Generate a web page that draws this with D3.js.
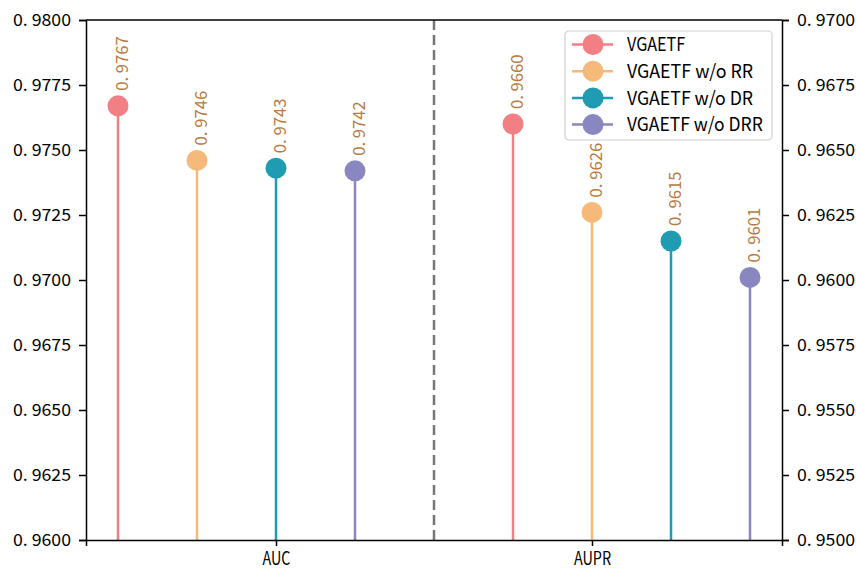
<!DOCTYPE html>
<html>
<head>
<meta charset="utf-8">
<script src="https://cdn.jsdelivr.net/npm/d3@7"></script>
<style>
  body { margin: 0; background: #fff; }
  text { font-family: "Noto Sans CJK SC", "DejaVu Sans", sans-serif; }
</style>
</head>
<body>
<div id="chart"></div>
<script>
// metric groups and ablation variants
var metrics = ["AUC", "AUPR"];
var variants = ["VGAETF", "VGAETF w/o RR", "VGAETF w/o DR", "VGAETF w/o DRR"];
var colors = ["#f27f83", "#f5b97a", "#1f9bb2", "#8a86c0"];
var aucValues = [0.9767, 0.9746, 0.9743, 0.9742];
var auprValues = [0.9660, 0.9626, 0.9615, 0.9601];
var leftTicks = [0.9600, 0.9625, 0.9650, 0.9675, 0.9700, 0.9725, 0.9750, 0.9775, 0.9800];
var rightTicks = [0.9500, 0.9525, 0.9550, 0.9575, 0.9600, 0.9625, 0.9650, 0.9675, 0.9700];

var W = 856, H = 569;
var m = { top: 20, right: 74, bottom: 29, left: 86 };
var w = W - m.left - m.right, h = H - m.top - m.bottom;

// stretch text to the width of a half-width monospace face (like SimHei)
function fit(sel, adv) {
    sel.each(function () {
        var t = d3.select(this);
        t.attr("textLength", t.text().length * adv).attr("lengthAdjust", "spacingAndGlyphs");
    });
}

var svg = d3.select("#chart").append("svg")
    .attr("width", W).attr("height", H)
    .append("g")
    .attr("transform", "translate(" + m.left + "," + m.top + ")");

// slot positions: AUC 0..3, divider 4, AUPR 5..8
var x = d3.scaleLinear().domain([-0.405, 8.405]).range([0, w]);
var yL = d3.scaleLinear().domain([0.96, 0.98]).range([h, 0]);
var yR = d3.scaleLinear().domain([0.95, 0.97]).range([h, 0]);

var points = [];
aucValues.forEach(function (v, i) { points.push({ slot: i, v: v, y: yL(v), c: colors[i] }); });
auprValues.forEach(function (v, i) { points.push({ slot: 5 + i, v: v, y: yR(v), c: colors[i] }); });

// divider
svg.append("line")
    .attr("x1", x(4)).attr("x2", x(4))
    .attr("y1", 0).attr("y2", h)
    .attr("stroke", "#777").attr("stroke-width", 2.5)
    .attr("stroke-dasharray", "10,5");

// stems
svg.selectAll(".stem").data(points).enter().append("line")
    .attr("x1", function (d) { return x(d.slot); })
    .attr("x2", function (d) { return x(d.slot); })
    .attr("y1", h)
    .attr("y2", function (d) { return d.y; })
    .attr("stroke", function (d) { return d.c; })
    .attr("stroke-width", 2.5);

svg.selectAll(".dot").data(points).enter().append("circle")
    .attr("cx", function (d) { return x(d.slot); })
    .attr("cy", function (d) { return d.y; })
    .attr("r", 10.5)
    .attr("fill", function (d) { return d.c; });

// value labels
var fmt = function (d) { return d.toFixed(4).replace(".", ". "); };
svg.selectAll(".lbl").data(points).enter().append("text")
    .attr("transform", function (d) {
        return "translate(" + (x(d.slot) + 10) + "," + (d.y - 15) + ") rotate(-90)";
    })
    .attr("fill", "#b87a3f")
    .style("font-size", "16.5px")
    .text(function (d) { return fmt(d.v); })
    .call(fit, 7.8);

// axes
var axL = svg.append("g")
    .call(d3.axisLeft(yL).tickValues(leftTicks).tickFormat(fmt).tickSize(7).tickPadding(8));
var axR = svg.append("g")
    .attr("transform", "translate(" + w + ",0)")
    .call(d3.axisRight(yR).tickValues(rightTicks).tickFormat(fmt).tickSize(7).tickPadding(8));
var axB = svg.append("g")
    .attr("transform", "translate(0," + h + ")")
    .call(d3.axisBottom(x).tickValues([2, 6]).tickFormat(function (d, i) { return metrics[i]; })
        .tickSize(6).tickPadding(6));
svg.append("line").attr("x1", 0).attr("x2", w).attr("y1", 0).attr("y2", 0)
    .attr("stroke", "#000").attr("stroke-width", 1.5);

[axL, axR, axB].forEach(function (a) {
    a.select(".domain").attr("stroke-width", 1.5);
    a.selectAll(".tick line").attr("stroke-width", 1.5);
    a.selectAll("text").attr("fill", "#000").style("font-family", "'Noto Sans CJK SC', sans-serif");
});
axL.selectAll("text").style("font-size", "17px").call(fit, 8.3);
axR.selectAll("text").style("font-size", "17px").call(fit, 8.3);
axB.selectAll("text").style("font-size", "18px").call(fit, 9.3);

// legend
var lg = svg.append("g").attr("transform", "translate(" + (565 - m.left) + "," + (31 - m.top) + ")");
lg.append("rect").attr("width", 207).attr("height", 109).attr("rx", 4)
    .attr("fill", "#fff").attr("fill-opacity", 0.85)
    .attr("stroke", "#d0d0d0").attr("stroke-width", 1.2);
var row = lg.selectAll(".row").data(variants).enter().append("g")
    .attr("transform", function (d, i) { return "translate(0," + (13.5 + i * 26.7) + ")"; });
row.append("line").attr("x1", 7).attr("x2", 48)
    .attr("stroke", function (d, i) { return colors[i]; }).attr("stroke-width", 2.5);
row.append("circle").attr("cx", 28).attr("r", 10.5)
    .attr("fill", function (d, i) { return colors[i]; });
row.append("text").attr("x", 62).attr("dy", "0.36em")
    .style("font-size", "18.5px").attr("fill", "#000")
    .text(function (d) { return d; })
    .call(fit, 9.7);
</script>
</body>
</html>
